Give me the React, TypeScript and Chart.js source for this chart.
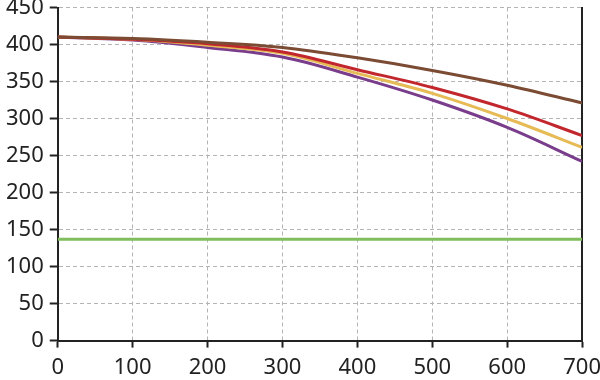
import React, { useEffect, useRef } from "react";
import { Chart, registerables } from "chart.js";

Chart.register(...registerables);

const xValues = [0, 100, 200, 300, 400, 500, 600, 700];
const brownSeries = [410, 408, 403, 396, 382, 365, 345, 321];
const redSeries = [410, 407, 401, 390, 366, 342, 313, 277];
const yellowSeries = [410, 407, 399, 388, 361, 334, 300, 261];
const purpleSeries = [410, 406, 396, 383, 356, 325, 288, 242];
const greenSeries = [137, 137, 137, 137, 137, 137, 137, 137];

const FONT = "'Noto Sans', sans-serif";
const X_PAD = 7;
const CANVAS_W = 608;
const CANVAS_H = 388;

export default function App() {
  const ref = useRef<HTMLCanvasElement | null>(null);

  useEffect(() => {
    if (!ref.current) return;
    const mk = (data: number[], color: string) => ({
      data: xValues.map((x, i) => ({ x, y: data[i] })),
      borderColor: color,
      backgroundColor: color,
      borderWidth: 3,
      pointRadius: 0,
      tension: 0.35,
      fill: false,
    });
    const chart = new Chart(ref.current, {
      type: "line",
      data: {
        datasets: [
          mk(greenSeries, "#80bd5c"),
          mk(brownSeries, "#7b4b34"),
          mk(redSeries, "#c1272d"),
          mk(yellowSeries, "#e6bb55"),
          mk(purpleSeries, "#7a3d8c"),
        ],
      },
      options: {
        animation: false,
        responsive: false,
        maintainAspectRatio: false,
        layout: { padding: 0 },
        plugins: { legend: { display: false }, tooltip: { enabled: false } },
        scales: {
          x: {
            type: "linear",
            min: 0,
            max: 700,
            ticks: {
              stepSize: 100,
              color: "#222",
              font: { family: FONT, size: 22, lineHeight: 1.2 },
              padding: X_PAD,
              maxRotation: 0,
            },
            grid: {
              color: "#b4b4b4",
              lineWidth: 1,
              tickLength: 7,
              tickColor: "#222",
              tickWidth: 2,
              tickBorderDash: [],
            },
            border: { display: true, color: "#222", width: 2, dash: [4, 3] },
          },
          y: {
            min: 0,
            max: 450,
            ticks: {
              stepSize: 50,
              color: "#222",
              font: { family: FONT, size: 22, lineHeight: "3px" },
              padding: 6,
            },
            grid: {
              color: "#b4b4b4",
              lineWidth: 1,
              tickLength: 8,
              tickColor: "#222",
              tickWidth: 2,
              tickBorderDash: [],
            },
            border: { display: true, color: "#222", width: 2, dash: [4, 3] },
          },
          yR: {
            position: "right",
            min: 0,
            max: 450,
            ticks: { display: false },
            grid: { drawOnChartArea: false, drawTicks: false },
            border: { display: true, color: "#222", width: 2 },
          },
        },
      },
    });
    return () => chart.destroy();
  }, []);

  return (
    <div style={{ position: "fixed", left: 0, top: 0, width: 600, height: 380, overflow: "hidden", background: "#fff" }}>
      <canvas ref={ref} width={CANVAS_W} height={CANVAS_H} style={{ width: CANVAS_W, height: CANVAS_H, display: "block" }} />
    </div>
  );
}
